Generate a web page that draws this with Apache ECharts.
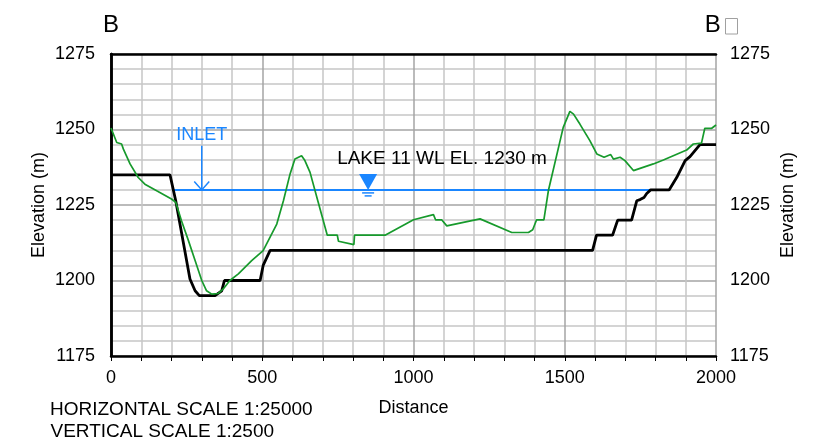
<!DOCTYPE html>
<html>
<head>
<meta charset="utf-8">
<script src="https://cdn.jsdelivr.net/npm/echarts@6/dist/echarts.min.js"></script>
<style>
  html, body { margin: 0; padding: 0; background: #fff; }
  #chart { width: 817px; height: 445px; }
</style>
</head>
<body>
<div id="chart"></div>
<script>
// Existing ground profile along section B–B'
const groundDistance = [0, 19, 35, 41, 63, 90, 112, 151, 200, 214, 233, 256, 278, 300, 316, 333, 355, 371, 393,
  421, 465, 503, 548, 570, 592, 608, 630, 641, 658, 685, 715, 748, 752, 803, 805, 906, 1000, 1066, 1073, 1093,
  1110, 1220, 1325, 1380, 1394, 1407, 1431, 1446, 1495, 1517, 1529, 1550, 1583, 1606, 1630, 1652, 1661, 1683,
  1699, 1727, 1793, 1826, 1903, 1925, 1952, 1963, 1986, 2000];
const groundElevation = [1250.5, 1245.7, 1245.2, 1243.5, 1238.6, 1234.1, 1231.9, 1229.7, 1227, 1225.9, 1219.8,
  1213.2, 1206.6, 1200, 1196.6, 1195.5, 1195.7, 1197.2, 1200, 1202.2, 1206.6, 1209.9, 1218.7, 1226.4, 1235.3,
  1240.2, 1241.3, 1239.7, 1235.8, 1225.9, 1215, 1215, 1213, 1211.9, 1215, 1215, 1220.1, 1221.8, 1220.1, 1220.1,
  1218.1, 1220.4, 1215.9, 1215.9, 1216.8, 1220.1, 1220.1, 1229.8, 1250.7, 1256, 1255.1, 1251.8, 1246.3, 1241.9,
  1240.8, 1241.7, 1240.2, 1240.8, 1239.7, 1236.4, 1238.6, 1239.9, 1243.2, 1245.2, 1245.5, 1250.4, 1250.4, 1251.5];

// Design channel invert
const channelDistance = [0, 195, 206, 214, 261, 278, 292, 344, 366, 375, 493, 503, 526, 1592, 1605, 1658, 1675,
  1721, 1738, 1749, 1762, 1771, 1784, 1845, 1870, 1898, 1914, 1947, 2000];
const channelElevation = [1235, 1235, 1230, 1226.4, 1200.5, 1196.6, 1195, 1195, 1196.6, 1200, 1200, 1205, 1210,
  1210, 1215, 1215, 1220, 1220, 1226.4, 1226.8, 1227.5, 1228.8, 1230, 1230, 1234.1, 1239.7, 1241, 1245, 1245];

// Lake water level and its extent along the section
const waterLevel = 1230;
const waterExtent = [206, 1782];

// Inlet arrow and lake level marker
const inletDistance = 300;
const inletTopElevation = 1244.6;
const lakeMarkerDistance = 850;
const lakeLabel = 'LAKE 11 WL EL. 1230 m';

// Axis ranges and tick steps
const distanceRange = [0, 2000];
const distanceStep = 500;
const elevationRange = [1175, 1275];
const elevationStep = 25;

const FONT = "'Liberation Sans', Arial, sans-serif";
const BLUE = '#1a86ff';
const GREEN = '#179a2c';

const zip = (xs, ys) => xs.map((x, i) => [x, ys[i]]);
const plain = v => String(v);

const chart = echarts.init(document.getElementById('chart'), null, { renderer: 'canvas' });

function renderAnnotations(params, api) {
  const top = api.coord([inletDistance, inletTopElevation]);
  const tip = api.coord([inletDistance, waterLevel]);
  const lake = api.coord([lakeMarkerDistance, waterLevel]);
  const stroke = { stroke: BLUE, lineWidth: 1.5, fill: null };
  return {
    type: 'group',
    children: [
      { type: 'line', shape: { x1: top[0], y1: top[1], x2: tip[0], y2: tip[1] }, style: stroke },
      { type: 'polyline', shape: { points: [[tip[0] - 7.5, tip[1] - 8.5], [tip[0], tip[1]], [tip[0] + 7.5, tip[1] - 8.5]] }, style: stroke },
      { type: 'text', x: top[0], y: top[1] - 10.5,
        style: { text: 'INLET', fill: BLUE, fontSize: 18, fontFamily: FONT, align: 'center', verticalAlign: 'middle' } },
      { type: 'polygon', shape: { points: [[lake[0] - 9, lake[1] - 16], [lake[0] + 9, lake[1] - 16], [lake[0], lake[1]]] },
        style: { fill: BLUE } },
      { type: 'line', shape: { x1: lake[0] - 6, y1: lake[1] + 3, x2: lake[0] + 6, y2: lake[1] + 3 }, style: stroke },
      { type: 'line', shape: { x1: lake[0] - 3.5, y1: lake[1] + 6, x2: lake[0] + 3.5, y2: lake[1] + 6 }, style: stroke },
      { type: 'text', x: lake[0] - 31, y: lake[1] - 31,
        style: { text: lakeLabel, fill: '#000', fontSize: 19, fontFamily: FONT, align: 'left', verticalAlign: 'middle' } }
    ]
  };
}

const axisText = { color: '#000', fontSize: 18, fontFamily: FONT };
const frameLine = { show: true, lineStyle: { color: '#000', width: 2.5 } };

const option = {
  animation: false,
  backgroundColor: '#fff',
  grid: { left: 111, right: 101, top: 54, bottom: 89 },
  xAxis: [
    {
      type: 'value', min: distanceRange[0], max: distanceRange[1], interval: distanceStep,
      name: 'Distance', nameLocation: 'middle', nameGap: 43, nameMoveOverlap: false, nameTextStyle: axisText,
      axisLine: frameLine,
      axisTick: { show: true, length: 5, lineStyle: { color: '#000', width: 1 } },
      minorTick: { show: true, splitNumber: 5, length: 5, lineStyle: { color: '#000', width: 1 } },
      axisLabel: Object.assign({ margin: 13, formatter: plain }, axisText),
      splitLine: { show: true, lineStyle: { color: '#a4a4a4', width: 1.5 } },
      minorSplitLine: { show: true, lineStyle: { color: '#c6c6c6', width: 1.5 } }
    },
    {
      type: 'value', position: 'top', min: distanceRange[0], max: distanceRange[1], interval: distanceStep,
      axisLine: frameLine, axisTick: { show: false }, axisLabel: { show: false }, splitLine: { show: false }
    }
  ],
  yAxis: [
    {
      type: 'value', min: elevationRange[0], max: elevationRange[1], interval: elevationStep,
      name: 'Elevation (m)', nameLocation: 'middle', nameGap: 63, nameMoveOverlap: false, nameTextStyle: axisText,
      axisLine: frameLine, axisTick: { show: false },
      axisLabel: Object.assign({ margin: 16, formatter: plain }, axisText),
      splitLine: { show: true, lineStyle: { color: '#a4a4a4', width: 1.5 } },
      minorTick: { show: false, splitNumber: 5 },
      minorSplitLine: { show: true, lineStyle: { color: '#c6c6c6', width: 1.5 } }
    },
    {
      type: 'value', position: 'right', min: elevationRange[0], max: elevationRange[1], interval: elevationStep,
      name: 'Elevation (m)', nameLocation: 'middle', nameGap: 63, nameMoveOverlap: false, nameRotate: 90, nameTextStyle: axisText,
      axisLine: frameLine, axisTick: { show: false },
      axisLabel: Object.assign({ margin: 14, formatter: plain }, axisText),
      splitLine: { show: false }
    }
  ],
  graphic: [
    { type: 'text', x: 111, y: 25.5, style: { text: 'B', fill: '#000', fontSize: 24, fontFamily: FONT, align: 'center', verticalAlign: 'middle' } },
    { type: 'text', x: 712.7, y: 25.5, style: { text: 'B', fill: '#000', fontSize: 24, fontFamily: FONT, align: 'center', verticalAlign: 'middle' } },
    { type: 'rect', shape: { x: 725.5, y: 18.5, width: 12, height: 15.5 }, style: { fill: null, stroke: '#a0a0a0', lineWidth: 1 } },
    { type: 'text', x: 50, y: 409.5, style: { text: 'HORIZONTAL SCALE 1:25000', fill: '#000', fontSize: 19, fontFamily: FONT, align: 'left', verticalAlign: 'middle' } },
    { type: 'text', x: 50.5, y: 431.5, style: { text: 'VERTICAL SCALE 1:2500', fill: '#000', fontSize: 19, fontFamily: FONT, align: 'left', verticalAlign: 'middle' } }
  ],
  series: [
    {
      name: 'Lake water level', type: 'line', data: waterExtent.map(d => [d, waterLevel]),
      showSymbol: false, lineStyle: { color: BLUE, width: 2 }, z: 3, silent: true
    },
    {
      name: 'Channel invert', type: 'line', data: zip(channelDistance, channelElevation),
      showSymbol: false, lineStyle: { color: '#000', width: 2.8 }, z: 4, silent: true
    },
    {
      name: 'Existing ground', type: 'line', data: zip(groundDistance, groundElevation),
      showSymbol: false, lineStyle: { color: GREEN, width: 1.7 }, z: 5, silent: true
    },
    {
      name: 'Annotations', type: 'custom', data: [[lakeMarkerDistance, waterLevel]],
      renderItem: renderAnnotations, clip: false, silent: true, z: 6
    }
  ]
};

chart.setOption(option);
</script>
</body>
</html>
